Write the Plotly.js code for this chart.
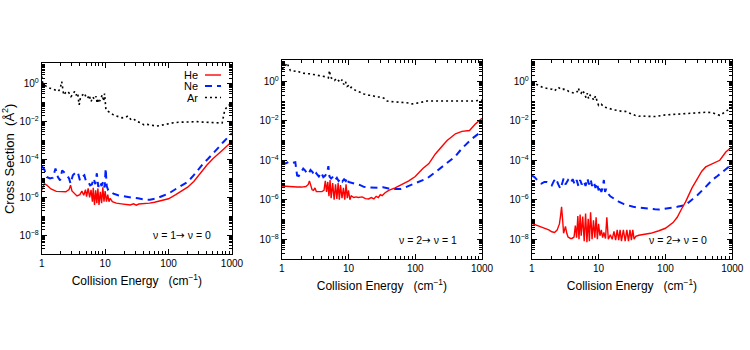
<!DOCTYPE html>
<html>
<head>
<meta charset="utf-8">
<script src="https://cdn.plot.ly/plotly-3.0.1.min.js"></script>
<style>
  html, body { margin: 0; padding: 0; background: #fff; }
  #plot { width: 750px; height: 350px; }
</style>
</head>
<body>
<div id="plot"></div>
<script>
// Panel 1: v = 1 -> v = 0
const he1E = [1, 1.05, 1.1, 1.2, 1.4, 1.7, 2.0, 2.4, 2.7, 2.85, 3.0, 3.3, 3.6, 4.0, 4.3, 4.6, 4.9, 5.1, 5.4, 5.7, 6.0, 6.3, 6.5, 6.8, 7.1, 7.4, 7.7, 8.0, 8.4, 8.8, 9.2, 9.6, 10, 10.5, 11, 11.5, 12, 13, 15, 18, 22, 25, 28, 31, 34, 40, 50, 60, 80, 100, 130, 160, 200, 250, 300, 350, 400, 500, 600, 700, 850, 1000];
const he1Y = [2.4e-6, 4e-6, 5.3e-6, 4.5e-6, 2.8e-6, 2.1e-6, 2.0e-6, 2.0e-6, 2.6e-6, 4.4e-6, 2.2e-6, 1.5e-6, 1.2e-6, 1.4e-6, 2.2e-6, 1.3e-6, 2.6e-6, 1.1e-6, 3.0e-6, 1.0e-6, 2.5e-6, 6e-7, 3.2e-6, 4e-7, 2.4e-6, 5e-7, 3.0e-6, 4e-7, 2.0e-6, 5e-7, 3.4e-6, 6e-7, 2.2e-6, 6e-7, 1.4e-6, 6e-7, 9e-7, 6e-7, 5e-7, 4.6e-7, 4.3e-7, 4.0e-7, 4.6e-7, 3.9e-7, 4.5e-7, 4.6e-7, 5e-7, 5.6e-7, 6.8e-7, 8.5e-7, 1.4e-6, 2.2e-6, 3.5e-6, 7e-6, 1.5e-5, 3e-5, 5e-5, 1.1e-4, 1.8e-4, 3.0e-4, 5.5e-4, 9e-4];

const ne1E = [1, 1.1, 1.2, 1.35, 1.5, 1.65, 1.8, 1.95, 2.1, 2.3, 2.5, 2.7, 2.85, 3.1, 3.4, 3.7, 4.0, 4.3, 4.7, 5.0, 5.4, 5.8, 6.2, 6.6, 7.0, 7.4, 7.8, 8.3, 8.8, 9.3, 9.8, 10.2, 10.6, 11.2, 12, 13.5, 16, 20, 26, 33, 41, 51, 65, 80, 100, 130, 160, 200, 250, 300, 350, 420, 500, 600, 720, 850, 1000];
const ne1Y = [4.5e-5, 3e-5, 1.2e-5, 1e-5, 1.1e-5, 3.4e-5, 1.2e-5, 8e-6, 2.7e-5, 2e-5, 1.5e-5, 1e-5, 5.4e-6, 1.5e-5, 2e-5, 2.2e-5, 8e-6, 1.2e-5, 1.5e-5, 7e-6, 6.6e-6, 4.4e-6, 5e-6, 1e-5, 5e-6, 1.9e-5, 3.6e-6, 6.6e-6, 4e-6, 7e-6, 3.4e-6, 3.4e-5, 4e-6, 2.4e-6, 2e-6, 1.6e-6, 1.3e-6, 1.1e-6, 9.8e-7, 9e-7, 7.8e-7, 7.6e-7, 9e-7, 1.2e-6, 1.6e-6, 2.8e-6, 4.2e-6, 6.6e-6, 1.5e-5, 3.2e-5, 6e-5, 1.1e-4, 2e-4, 4e-4, 8e-4, 1.5e-3, 2.5e-3];

const ar1E = [1, 1.03, 1.1, 1.2, 1.32, 1.45, 1.59, 1.7, 1.83, 1.95, 2.07, 2.15, 2.22, 2.4, 2.57, 2.75, 2.9, 3.1, 3.3, 3.5, 3.7, 3.8, 3.9, 4.1, 4.4, 4.7, 5.0, 5.3, 5.6, 6.0, 6.4, 6.8, 7.2, 7.5, 7.9, 8.2, 8.6, 9.0, 9.5, 9.8, 10.3, 11.2, 12.3, 13.5, 15, 16.5, 18.5, 20.7, 23, 26, 29, 32, 36, 41, 46, 51, 58, 65, 72, 80, 90, 102, 120, 142, 170, 200, 240, 280, 350, 430, 520, 640, 700, 770, 870, 1000];
const ar1Y = [2.5, 1.2, 0.9, 0.7, 0.6, 0.55, 0.52, 0.45, 0.4, 0.55, 1.3, 0.5, 0.26, 0.35, 0.4, 0.3, 0.21, 0.28, 0.4, 0.25, 0.32, 0.14, 0.078, 0.2, 0.25, 0.32, 0.2, 0.17, 0.25, 0.115, 0.2, 0.15, 0.22, 0.094, 0.16, 0.12, 0.18, 0.26, 0.12, 0.3, 0.042, 0.034, 0.03, 0.023, 0.02, 0.018, 0.016, 0.017, 0.02, 0.012, 0.013, 0.01, 0.009, 0.0067, 0.0072, 0.0067, 0.0063, 0.0059, 0.0062, 0.0067, 0.007, 0.0082, 0.0088, 0.0093, 0.0097, 0.01, 0.0098, 0.01, 0.0095, 0.009, 0.0087, 0.0082, 0.0085, 0.042, 0.07, 0.094];

// Panel 2: v = 2 -> v = 1
const he2E = [1, 1.3, 1.7, 2.0, 2.3, 2.5, 2.6, 2.7, 2.85, 3.0, 3.15, 3.3, 3.6, 4.0, 4.3, 4.5, 4.7, 4.9, 5.1, 5.3, 5.5, 5.8, 6.1, 6.4, 6.7, 7.0, 7.3, 7.6, 8.0, 8.4, 8.8, 9.2, 9.6, 10, 10.5, 11, 12, 13, 14, 16, 18, 20, 22, 24, 26, 28, 30, 32, 35, 40, 50, 60, 80, 100, 130, 160, 200, 250, 300, 400, 500, 650, 800, 1000];
const he2Y = [5e-6, 4.6e-6, 4.4e-6, 4.4e-6, 4.7e-6, 6e-6, 9e-6, 6e-6, 3.2e-6, 3e-6, 4e-6, 2.6e-6, 2.5e-6, 2.6e-6, 3e-6, 9e-6, 2.5e-6, 8e-6, 1.5e-6, 1e-5, 1.2e-6, 7e-6, 1e-6, 6e-6, 1.1e-6, 7e-6, 1e-6, 5.5e-6, 1.2e-6, 4e-6, 1e-6, 6e-6, 1.2e-6, 3e-6, 1e-6, 1.6e-6, 1.3e-6, 1.4e-6, 1.3e-6, 1.4e-6, 1.15e-6, 1.1e-6, 1.3e-6, 1.1e-6, 1.5e-6, 1.3e-6, 1.8e-6, 1.6e-6, 2.2e-6, 3e-6, 4e-6, 5.4e-6, 9e-6, 1.5e-5, 3.8e-5, 6.8e-5, 2.1e-4, 5e-4, 1e-3, 2.2e-3, 2.9e-3, 3.2e-3, 7e-3, 1.35e-2];

const ne2E = [1, 1.15, 1.3, 1.45, 1.6, 1.7, 1.8, 1.95, 2.1, 2.25, 2.4, 2.55, 2.7, 2.9, 3.1, 3.3, 3.6, 3.9, 4.2, 4.5, 4.8, 5.0, 5.2, 5.5, 5.9, 6.3, 6.7, 7.1, 7.6, 8.1, 8.6, 9.1, 9.6, 10, 11, 12, 13.5, 15, 17, 20, 24, 28, 33, 40, 50, 60, 70, 80, 100, 150, 200, 300, 400, 500, 700, 850, 1000];
const ne2Y = [8e-5, 7e-5, 8.5e-5, 7.5e-5, 8e-5, 1.7e-5, 1.6e-5, 2.5e-5, 3.8e-5, 3e-5, 2e-5, 2.2e-5, 3.2e-5, 2.5e-5, 1.6e-5, 2.2e-5, 1.5e-5, 2.4e-5, 1.4e-5, 1.7e-5, 2.5e-5, 5e-5, 1.5e-5, 1.2e-5, 1.5e-5, 1e-5, 1.3e-5, 9e-6, 1.2e-5, 8.5e-6, 1.1e-5, 9e-6, 1.3e-5, 8e-6, 7.5e-6, 7e-6, 6e-6, 5.5e-6, 4.5e-6, 4.2e-6, 4e-6, 4e-6, 4.3e-6, 3.7e-6, 3.5e-6, 3.5e-6, 4.2e-6, 5e-6, 7e-6, 1.2e-5, 2.5e-5, 7e-5, 1.6e-4, 4e-4, 1.2e-3, 2e-3, 3.2e-3];

const ar2E = [1, 1.1, 1.2, 1.25, 1.35, 1.5, 1.7, 2.0, 2.3, 2.6, 3.0, 3.5, 4.0, 4.5, 5.0, 5.2, 5.4, 5.8, 6.2, 6.6, 7.0, 7.5, 8.0, 8.5, 9.0, 9.5, 10, 10.5, 11, 12, 13, 15, 17, 20, 23, 26, 30, 34, 38, 42, 50, 60, 70, 80, 90, 100, 120, 150, 200, 300, 400, 500, 700, 1000];
const ar2Y = [4.2, 5, 8.5, 6, 3.5, 3.2, 3.4, 2.6, 2.6, 2.4, 2.2, 2.0, 1.9, 1.7, 1.5, 3.5, 1.6, 1.3, 1.1, 1.4, 1.1, 0.9, 1.2, 0.7, 1.0, 0.55, 0.6, 0.45, 0.5, 0.4, 0.33, 0.28, 0.23, 0.2, 0.19, 0.16, 0.16, 0.14, 0.1, 0.095, 0.09, 0.087, 0.085, 0.08, 0.072, 0.075, 0.085, 0.1, 0.1, 0.1, 0.095, 0.1, 0.1, 0.11];

// Panel 3: v = 2 -> v = 0
const he3E = [1, 1.2, 1.5, 1.8, 2.0, 2.2, 2.4, 2.6, 2.7, 2.8, 2.9, 3.0, 3.1, 3.2, 3.35, 3.5, 3.8, 4.0, 4.3, 4.5, 4.7, 4.9, 5.1, 5.3, 5.5, 5.8, 6.1, 6.4, 6.7, 7.0, 7.3, 7.6, 8.0, 8.4, 8.8, 9.2, 9.6, 10, 10.5, 11, 11.5, 12, 12.7, 13.3, 14, 15, 16, 17, 18, 19, 20, 21, 22, 23.5, 25, 26.5, 28, 29.5, 31, 32.5, 34, 36, 40, 50, 60, 80, 100, 130, 150, 175, 200, 250, 300, 350, 400, 500, 650, 800, 1000];
const he3Y = [6.4e-8, 5e-8, 4e-8, 3e-8, 2.4e-8, 2.2e-8, 2.9e-8, 6e-8, 1.5e-7, 4.4e-7, 1e-7, 2e-8, 3e-8, 4.5e-8, 2e-8, 1.3e-8, 1.1e-8, 1.1e-8, 1.3e-8, 5e-8, 1.2e-8, 1.5e-7, 1e-8, 1.8e-7, 1.5e-8, 1.4e-7, 8e-9, 2e-7, 7e-9, 1.1e-7, 8e-9, 2.3e-7, 1e-8, 9e-8, 1.2e-8, 1.3e-7, 1e-8, 6e-8, 1.5e-8, 3e-8, 1.2e-8, 2.2e-8, 1.1e-8, 1.3e-7, 1e-8, 1.7e-8, 1e-8, 2.5e-8, 9e-9, 3e-8, 9e-9, 3e-8, 8e-9, 3e-8, 8e-9, 3e-8, 8e-9, 3e-8, 9e-9, 3e-8, 1e-8, 1.4e-8, 1.6e-8, 1.8e-8, 2e-8, 2.7e-8, 3.6e-8, 7e-8, 1.3e-7, 3.5e-7, 7.8e-7, 4e-6, 1.2e-5, 2.8e-5, 4.6e-5, 6.8e-5, 1e-4, 2.6e-4, 5e-4];

const ne3E = [1, 1.1, 1.25, 1.4, 1.55, 1.7, 1.85, 2.0, 2.15, 2.3, 2.5, 2.7, 2.9, 3.0, 3.2, 3.5, 3.8, 4.1, 4.4, 4.7, 5.0, 5.3, 5.6, 6.0, 6.4, 6.8, 7.2, 7.6, 8.0, 8.5, 9.0, 9.5, 10, 10.5, 11, 11.5, 12, 12.5, 13, 14, 15, 17, 20, 24, 28, 33, 40, 50, 60, 70, 80, 100, 120, 150, 200, 250, 300, 400, 500, 600, 700, 850, 1000];
const ne3Y = [1.7e-5, 1.4e-5, 9e-6, 6.6e-6, 8e-6, 8e-6, 7e-6, 5.4e-6, 9e-6, 1.2e-5, 6e-6, 3.6e-6, 8e-6, 1.2e-5, 6e-6, 1e-5, 7e-6, 1.1e-5, 6e-6, 1e-5, 5e-6, 1e-5, 6e-6, 9e-6, 5e-6, 1.2e-5, 6e-6, 1.1e-5, 5e-6, 8e-6, 4e-6, 7e-6, 3e-6, 5e-6, 2.5e-6, 4e-6, 1e-5, 2.5e-6, 3.5e-6, 2e-6, 1.5e-6, 1.1e-6, 8e-7, 6e-7, 5e-7, 4.4e-7, 4e-7, 3.6e-7, 3.4e-7, 3.3e-7, 3.2e-7, 3.5e-7, 4e-7, 4.4e-7, 5.5e-7, 1e-6, 1.7e-6, 4.5e-6, 1e-5, 1.6e-5, 2.5e-5, 4e-5, 6.5e-5];

const ar3E = [1, 1.1, 1.2, 1.3, 1.45, 1.6, 1.8, 2.0, 2.2, 2.5, 2.8, 3.0, 3.3, 3.6, 4.0, 4.4, 4.8, 5.0, 5.2, 5.5, 5.8, 6.1, 6.5, 6.8, 7.1, 7.5, 8.0, 8.5, 9.0, 9.5, 10, 11, 12, 13.5, 15, 17, 20, 22, 25, 28, 31, 35, 40, 45, 50, 60, 70, 85, 100, 130, 160, 200, 280, 400, 500, 600, 650, 700, 800, 1000];
const ar3Y = [0.9, 0.8, 0.7, 0.6, 0.5, 0.45, 0.42, 0.4, 0.33, 0.5, 0.38, 0.4, 0.38, 0.3, 0.28, 0.25, 0.3, 0.45, 0.3, 0.25, 0.35, 0.23, 0.15, 0.25, 0.13, 0.2, 0.16, 0.11, 0.18, 0.1, 0.06, 0.07, 0.05, 0.045, 0.04, 0.036, 0.033, 0.03, 0.03, 0.025, 0.022, 0.019, 0.017, 0.018, 0.017, 0.016, 0.0165, 0.018, 0.02, 0.021, 0.022, 0.024, 0.025, 0.027, 0.026, 0.022, 0.019, 0.022, 0.03, 0.05];

const panelLabels = ['ν = 1<span style="font-family:DejaVu Sans">→</span> ν = 0',
                     'ν = 2<span style="font-family:DejaVu Sans">→</span> ν = 1',
                     'ν = 2<span style="font-family:DejaVu Sans">→</span> ν = 0'];
const speciesNames = ['He', 'Ne', 'Ar'];
const yTickVals = [1e-8, 1e-6, 1e-4, 1e-2, 1];
const yTickText = ['10<sup>−8</sup>', '10<sup>−6</sup>', '10<sup>−4</sup>', '10<sup>−2</sup>', '10<sup>0</sup>'];
const xTickVals = [1, 10, 100, 1000];
const xTickText = ['1', '10', '100', '1000'];

const styles = {
  He: {color: 'rgb(255,0,0)', width: 1.4, dash: 'solid'},
  Ne: {color: 'rgb(0,32,255)', width: 2, dash: '7px,5px'},
  Ar: {color: 'rgb(0,0,0)', width: 1.6, dash: '2px,3px'}
};

const panels = [
  [[he1E, he1Y], [ne1E, ne1Y], [ar1E, ar1Y]],
  [[he2E, he2Y], [ne2E, ne2Y], [ar2E, ar2Y]],
  [[he3E, he3Y], [ne3E, ne3Y], [ar3E, ar3Y]]
];

const data = [];
panels.forEach((curves, p) => {
  const sfx = p === 0 ? '' : String(p + 1);
  // draw Ar first so He stays on top
  [2, 1, 0].forEach(k => {
    data.push({
      x: curves[k][0], y: curves[k][1],
      type: 'scatter', mode: 'lines',
      xaxis: 'x' + sfx, yaxis: 'y' + sfx,
      name: speciesNames[k],
      line: styles[speciesNames[k]],
      showlegend: false, hoverinfo: 'skip'
    });
  });
});

const font = 'Liberation Sans, Arial, sans-serif';
const xDomains = [[0.0556, 0.3093], [0.3756, 0.6427], [0.7089, 0.9764]];
const yDomains = [[0.2734, 0.8191], [0.26, 0.8286], [0.26, 0.8286]];

function xAxis(p) {
  return {
    domain: xDomains[p], anchor: p === 0 ? 'y' : 'y' + (p + 1),
    type: 'log', range: [0, 3],
    tickmode: 'array', tickvals: xTickVals, ticktext: xTickText,
    ticks: 'inside', ticklen: 5, tickcolor: '#000',
    minor: {ticks: 'inside', ticklen: 3, dtick: 'D1', tickcolor: '#000', showgrid: false},
    showline: true, linecolor: '#000', linewidth: 1, mirror: 'allticks',
    showgrid: false, zeroline: false, automargin: false,
    tickfont: {family: font, size: 10, color: '#000'},
    title: {text: 'Collision Energy   (cm<sup>−1</sup>)', font: {family: font, size: 12, color: '#000'}, standoff: 8}
  };
}

function yAxis(p) {
  const ax = {
    domain: yDomains[p], anchor: p === 0 ? 'x' : 'x' + (p + 1),
    type: 'log', range: [-9, 1.08],
    tickmode: 'array', tickvals: yTickVals, ticktext: yTickText,
    ticks: 'inside', ticklen: 5, tickcolor: '#000',
    minor: {ticks: 'inside', ticklen: 3, dtick: 'D1', tickcolor: '#000', showgrid: false},
    showline: true, linecolor: '#000', linewidth: 1, mirror: 'allticks',
    showgrid: false, zeroline: false, automargin: false,
    tickfont: {family: font, size: 10, color: '#000'}
  };
  if (p === 0) {
    ax.title = {text: 'Cross Section  (Å<sup>2</sup>)', font: {family: font, size: 13, color: '#000'}, standoff: 2};
  }
  return ax;
}

// legend drawn gnuplot style: label on the left, line sample on the right
const legendY = [0.7857, 0.7543, 0.7214];
const annotations = [];
const shapes = [];
speciesNames.forEach((nm, i) => {
  annotations.push({
    xref: 'paper', yref: 'paper', x: 0.2667, y: legendY[i],
    xanchor: 'right', yanchor: 'middle', showarrow: false,
    text: nm, font: {family: font, size: 11, color: '#000'}
  });
  shapes.push({
    type: 'line', xref: 'paper', yref: 'paper',
    x0: 0.2733, x1: 0.2947, y0: legendY[i], y1: legendY[i],
    line: styles[nm]
  });
});
const labelPos = [[0.2427, 0.3286], [0.5707, 0.3143], [0.904, 0.3143]];
panelLabels.forEach((t, p) => {
  annotations.push({
    xref: 'paper', yref: 'paper', x: labelPos[p][0], y: labelPos[p][1],
    xanchor: 'center', yanchor: 'middle', showarrow: false,
    text: t, font: {family: font, size: 10.5, color: '#000'}
  });
});

const layout = {
  width: 750, height: 350,
  margin: {l: 0, r: 0, t: 0, b: 0},
  paper_bgcolor: '#fff', plot_bgcolor: '#fff',
  showlegend: false,
  xaxis: xAxis(0), xaxis2: xAxis(1), xaxis3: xAxis(2),
  yaxis: yAxis(0), yaxis2: yAxis(1), yaxis3: yAxis(2),
  annotations: annotations, shapes: shapes
};

Plotly.newPlot('plot', data, layout, {staticPlot: true, displayModeBar: false});
</script>
</body>
</html>
